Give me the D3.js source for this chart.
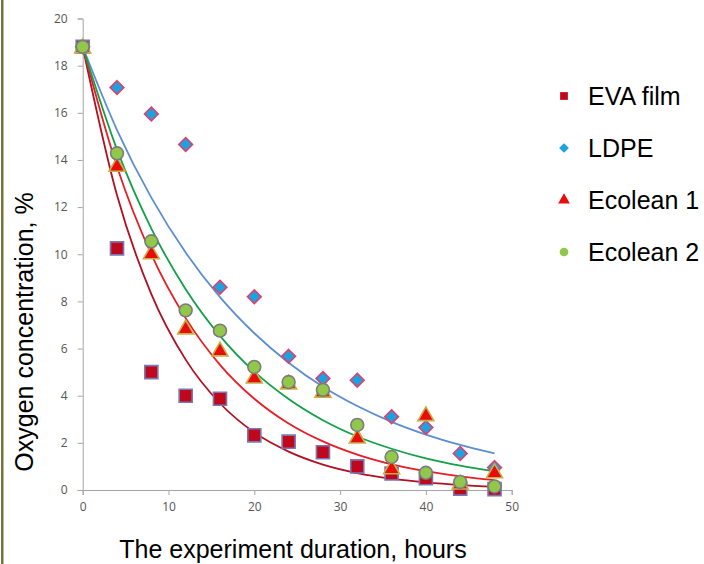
<!DOCTYPE html>
<html>
<head>
<meta charset="utf-8">
<script src="https://cdn.jsdelivr.net/npm/d3@7"></script>
<style>
  body { margin: 0; background: #fff; }
  svg { display: block; }
</style>
</head>
<body>
<svg id="chart"></svg>
<script>

// measurement times, hours
let hours = [0, 4, 8, 12, 16, 20, 24, 28, 32, 36, 40, 44, 48];

// oxygen concentration, %
let evaFilm  = [18.8, 10.25, 5.0, 4.0, 3.87, 2.32, 2.05, 1.6, 1.0, 0.7, 0.5, 0.06, 0.04];
let ldpe     = [18.8, 17.07, 15.95, 14.66, 8.6, 8.2, 5.67, 4.73, 4.66, 3.11, 2.65, 1.55, 0.95];
let ecolean1 = [18.8, 13.78, 10.07, 6.88, 5.95, 4.8, 4.55, 4.2, 2.25, 0.95, 3.2, 0.3, 0.78];
let ecolean2 = [18.8, 14.28, 10.55, 7.62, 6.76, 5.22, 4.58, 4.25, 2.76, 1.4, 0.73, 0.34, 0.15];

// trend lines, sampled at the same hours
let evaTrend  = [18.8, 12.5, 8.31, 5.53, 3.68, 2.44, 1.63, 1.08, 0.72, 0.48, 0.32, 0.21, 0.14];
let ldpeTrend = [18.8, 15.27, 12.4, 10.07, 8.18, 6.65, 5.4, 4.38, 3.56, 2.89, 2.35, 1.91, 1.55];
let eco1Trend = [18.8, 13.71, 9.99, 7.29, 5.31, 3.87, 2.82, 2.06, 1.5, 1.09, 0.8, 0.58, 0.42];
let eco2Trend = [18.8, 14.44, 11.09, 8.52, 6.54, 5.02, 3.86, 2.96, 2.27, 1.75, 1.34, 1.03, 0.79];

let seriesNames = ["EVA film", "LDPE", "Ecolean 1", "Ecolean 2"];
let xTicks = [0, 10, 20, 30, 40, 50];
let yTicks = [0, 2, 4, 6, 8, 10, 12, 14, 16, 18, 20];

const svgWidth = 704, svgHeight = 564;

const svg = d3.select("#chart")
    .attr("width", svgWidth)
    .attr("height", svgHeight);

// olive edge on the left of the picture
svg.append("rect")
    .attr("x", 1).attr("y", 0)
    .attr("width", 2.5).attr("height", svgHeight)
    .attr("fill", "#74743c");

let x = d3.scaleLinear().domain([0, 50]).range([82.7, 511.7]);
let y = d3.scaleLinear().domain([0, 20]).range([490, 18.5]);

let styles = [
  { shape: d3.symbolSquare,   size: 170, fill: "#c0081c", stroke: "#7a78b4", line: "#b01020" },
  { shape: d3.symbolDiamond2, size: 120, fill: "#1aa3e0", stroke: "#e0406a", line: "#5b8ed2" },
  { shape: d3.symbolTriangle, size: 110, fill: "#e80c0c", stroke: "#c8b048", line: "#ea1c24" },
  { shape: d3.symbolCircle,   size: 130, fill: "#92c84a", stroke: "#7c7c7c", line: "#12a048" }
];

let data = [evaFilm, ldpe, ecolean1, ecolean2];
let trends = [evaTrend, ldpeTrend, eco1Trend, eco2Trend];

// axes
let xAxis = d3.axisBottom(x).tickValues(xTicks).tickSize(5).tickPadding(7);
let yAxis = d3.axisLeft(y).tickValues(yTicks).tickSize(5).tickPadding(10);

let gx = svg.append("g")
    .attr("transform", "translate(0," + y(0) + ")")
    .call(xAxis);
let gy = svg.append("g")
    .attr("transform", "translate(" + x(0) + ",0)")
    .call(yAxis);

[gx, gy].forEach(function(g) {
  g.select(".domain").attr("stroke", "#a6a6a6");
  g.selectAll(".tick line").attr("stroke", "#a6a6a6");
  g.selectAll(".tick text")
      .attr("fill", "#555")
      .style("font-family", "'Open Sans', 'Liberation Sans', sans-serif")
      .style("font-size", "12px");
});

// trend curves
let line = d3.line()
    .x(function(d, i) { return x(hours[i]); })
    .y(function(d) { return y(d); })
    .curve(d3.curveMonotoneX);

trends.forEach(function(t, k) {
  svg.append("path")
      .attr("d", line(t))
      .attr("fill", "none")
      .attr("stroke", styles[k].line)
      .attr("stroke-width", 1.8);
});

// markers
data.forEach(function(values, k) {
  let st = styles[k];
  svg.append("g").selectAll("path")
      .data(values)
      .enter()
      .append("path")
      .attr("d", d3.symbol().type(st.shape).size(st.size))
      .attr("transform", function(d, i) {
        let dy = k === 2 ? 1.5 : 0;
        return "translate(" + x(hours[i]) + "," + (y(d) + dy) + ")";
      })
      .attr("fill", st.fill)
      .attr("stroke", st.stroke)
      .attr("stroke-width", 1.6);
});

// legend
let legend = svg.append("g");
seriesNames.forEach(function(name, k) {
  let st = styles[k];
  let ly = 96 + k * 52;
  legend.append("path")
      .attr("d", d3.symbol().type(st.shape).size(60))
      .attr("transform", "translate(564," + ly + ")")
      .attr("fill", st.fill);
  legend.append("text")
      .attr("x", 588)
      .attr("y", ly + 9)
      .attr("fill", "#000")
      .style("font-family", "'Liberation Sans', Arial, sans-serif")
      .style("font-size", "25px")
      .text(name);
});

// axis titles
svg.append("text")
    .attr("x", 293)
    .attr("y", 558)
    .attr("text-anchor", "middle")
    .style("font-family", "'Liberation Sans', Arial, sans-serif")
    .style("font-size", "25px")
    .text("The experiment duration, hours");

svg.append("text")
    .attr("transform", "translate(33,332) rotate(-90)")
    .attr("text-anchor", "middle")
    .style("font-family", "'Liberation Sans', Arial, sans-serif")
    .style("font-size", "25px")
    .text("Oxygen concentration, %");

</script>
</body>
</html>
